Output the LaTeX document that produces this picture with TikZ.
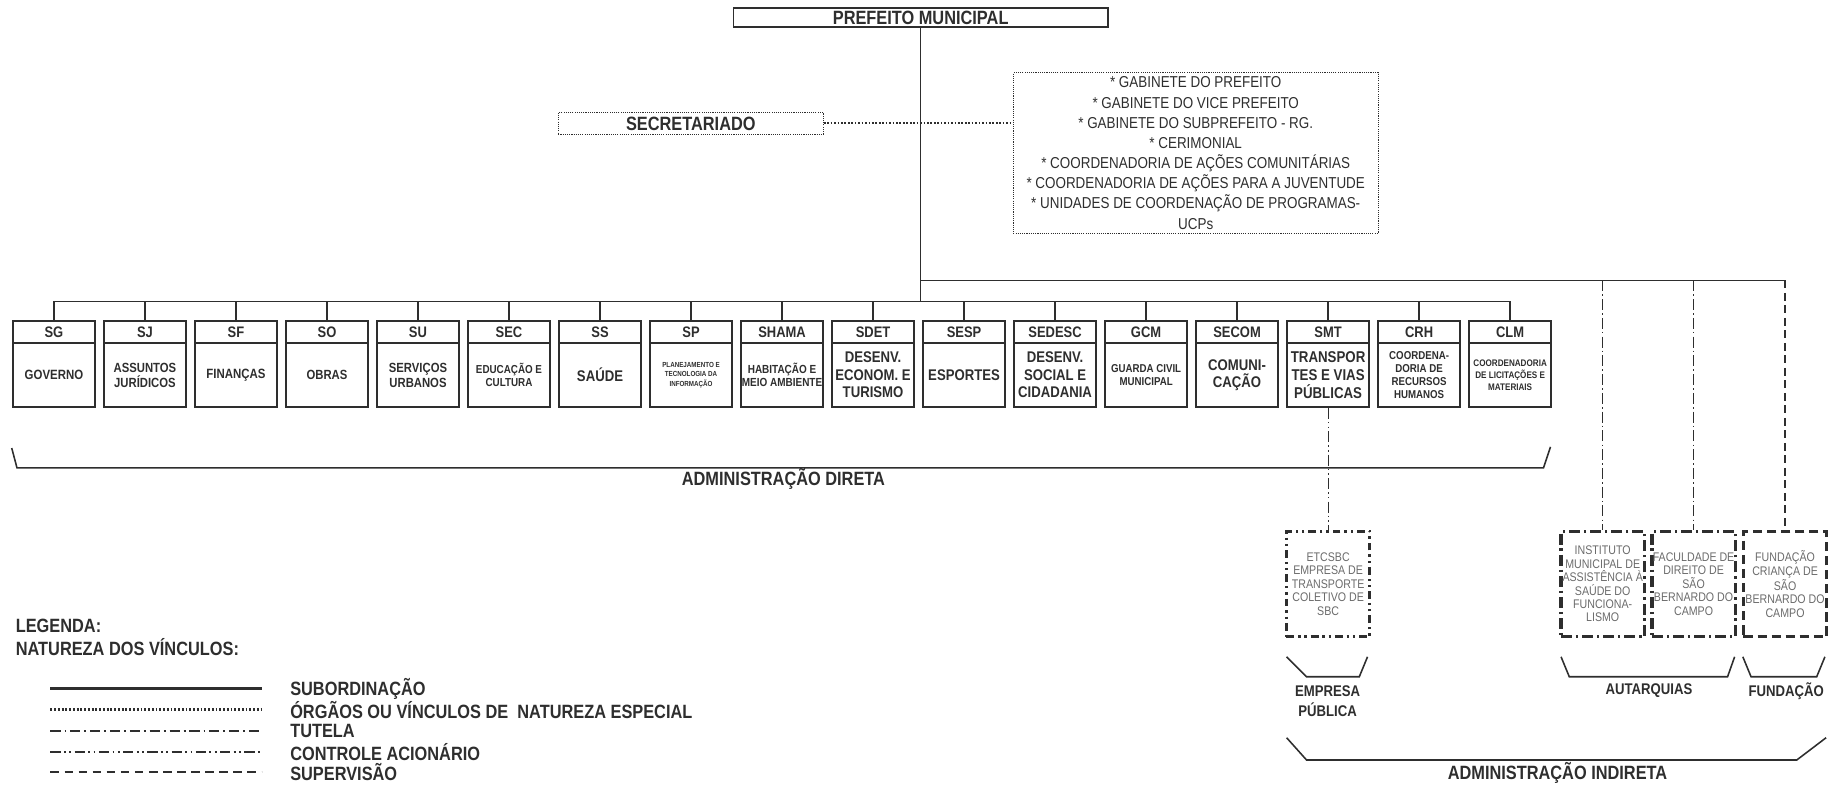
\documentclass[tikz,border=0pt]{standalone}
\usepackage{fontspec}
\setmainfont{Liberation Sans}[FakeStretch=0.85]
\definecolor{ink}{HTML}{2E2E2E}
\definecolor{greytxt}{HTML}{6B6B6B}
\newcommand\fsz[2]{\fontsize{#1}{#2}\selectfont}
\tikzset{every picture/.style={line width=0.75pt}}
\tikzset{
  hdbox/.style={draw=ink,text=ink,line width=1.1pt,minimum width=52.5pt,minimum height=14pt,inner sep=0pt,font=\bfseries\fsz{9.75}{10}},
  bdbox/.style 2 args={draw=ink,text=ink,line width=1.1pt,minimum width=52.5pt,minimum height=40.7pt,inner sep=0pt,align=center,font=\bfseries\fsz{#1}{#2}},
  biglbl/.style={text=ink,inner sep=0pt,font=\bfseries\fsz{12.3}{13}},
  midlbl/.style={text=ink,inner sep=0pt,align=center,font=\bfseries\fsz{9.9}{12.8}},
  indbox/.style={text=greytxt,line width=2pt,draw=ink,minimum width=53.25pt,minimum height=67.5pt,inner sep=0pt,align=center,font=\fsz{8}{8.6}},
  tutbox/.style={indbox,dash pattern=on 7pt off 2.5pt on 1.5pt off 2.5pt},
  ctlbox/.style={indbox,dash pattern=on 5pt off 2.5pt on 1.5pt off 2.5pt on 1.5pt off 2.5pt},
  supbox/.style={indbox,dash pattern=on 6pt off 3pt},
  subline/.style={draw=ink,line width=1pt},
  dotline/.style={draw=ink,line width=1.2pt,dash pattern=on 1.1pt off 1.1pt},
  tutline/.style={draw=ink,line width=0.8pt,dash pattern=on 7pt off 2pt on 1pt off 2pt},
  ctlline/.style={draw=ink,line width=0.8pt,dash pattern=on 7pt off 2pt on 1pt off 2pt on 1pt off 2pt},
  supline/.style={draw=ink,line width=0.8pt,dash pattern=on 5pt off 3pt},
  brace/.style={draw=ink,line width=1pt}
}

\begin{document}
\begin{tikzpicture}[x=0.75pt,y=0.75pt,yscale=-1,xscale=1]
\useasboundingbox (0,0) rectangle (1568,670);

% Prefeito
\node[draw=ink,text=ink,line width=1pt,minimum width=239.25pt,minimum height=12pt,inner sep=0pt,font=\bfseries\fsz{12.3}{13}] (pm) at (785,15) {PREFEITO MUNICIPAL};
\coordinate (ja) at (785,239);
\coordinate (jb) at (785,257);

% Secretariado and special organs
\node[draw=ink,text=ink,line width=0.6pt,dash pattern=on 0.7pt off 0.7pt,minimum width=169.5pt,minimum height=13.7pt,inner sep=0pt,font=\bfseries\fsz{12.3}{13}] (secr) at (589,105.2) {SECRETARIADO};
\node[draw=ink,text=ink,line width=0.6pt,dash pattern=on 0.7pt off 0.7pt,minimum width=233.25pt,minimum height=102.75pt,inner sep=0pt,align=center,font=\fsz{10.1}{12.9}] (gab) at (1019.5,130.5) {* GABINETE DO PREFEITO\\* GABINETE DO VICE PREFEITO\\* GABINETE DO SUBPREFEITO - RG.\\* CERIMONIAL\\* COORDENADORIA DE AÇÕES COMUNITÁRIAS\\* COORDENADORIA DE AÇÕES PARA A JUVENTUDE\\* UNIDADES DE COORDENAÇÃO DE PROGRAMAS-\\UCPs};

% Secretarias
\node[hdbox] (hsg) at (46,283.3) {SG};
\node[bdbox={8.6}{9.6}] (bsg) at (46,319.8) {GOVERNO};
\node[hdbox] (hsj) at (123.6,283.3) {SJ};
\node[bdbox={8.5}{9.6}] (bsj) at (123.6,319.8) {ASSUNTOS\\JURÍDICOS};
\node[hdbox] (hsf) at (201.2,283.3) {SF};
\node[bdbox={8.6}{9.6}] (bsf) at (201.2,319.8) {FINANÇAS};
\node[hdbox] (hso) at (278.8,283.3) {SO};
\node[bdbox={8.5}{9.6}] (bso) at (278.8,319.8) {OBRAS};
\node[hdbox] (hsu) at (356.4,283.3) {SU};
\node[bdbox={8.5}{9.6}] (bsu) at (356.4,319.8) {SERVIÇOS\\URBANOS};
\node[hdbox] (hsec) at (434,283.3) {SEC};
\node[bdbox={7.4}{8.6}] (bsec) at (434,319.8) {EDUCAÇÃO E\\CULTURA};
\node[hdbox] (hss) at (511.6,283.3) {SS};
\node[bdbox={9.9}{11}] (bss) at (511.6,319.8) {SAÚDE};
\node[hdbox] (hsp) at (589.2,283.3) {SP};
\node[bdbox={4.7}{6.1}] (bsp) at (589.2,319.8) {PLANEJAMENTO E\\TECNOLOGIA DA\\INFORMAÇÃO};
\node[hdbox] (hshama) at (666.8,283.3) {SHAMA};
\node[bdbox={7.5}{8.5}] (bshama) at (666.8,319.8) {HABITAÇÃO E\\MEIO AMBIENTE};
\node[hdbox] (hsdet) at (744.4,283.3) {SDET};
\node[bdbox={9.9}{11.25}] (bsdet) at (744.4,319.8) {DESENV.\\ECONOM. E\\TURISMO};
\node[hdbox] (hsesp) at (822,283.3) {SESP};
\node[bdbox={9.9}{11}] (bsesp) at (822,319.8) {ESPORTES};
\node[hdbox] (hsedesc) at (899.6,283.3) {SEDESC};
\node[bdbox={9.9}{11.25}] (bsedesc) at (899.6,319.8) {DESENV.\\SOCIAL E\\CIDADANIA};
\node[hdbox] (hgcm) at (977.2,283.3) {GCM};
\node[bdbox={7.3}{8.6}] (bgcm) at (977.2,319.8) {GUARDA CIVIL\\MUNICIPAL};
\node[hdbox] (hsecom) at (1054.8,283.3) {SECOM};
\node[bdbox={9.9}{11}] (bsecom) at (1054.8,319.8) {COMUNI-\\CAÇÃO};
\node[hdbox] (hsmt) at (1132.4,283.3) {SMT};
\node[bdbox={10}{11.25}] (bsmt) at (1132.4,319.8) {TRANSPOR\\TES E VIAS\\PÚBLICAS};
\node[hdbox] (hcrh) at (1210,283.3) {CRH};
\node[bdbox={7.3}{8.5}] (bcrh) at (1210,319.8) {COORDENA-\\DORIA DE\\RECURSOS\\HUMANOS};
\node[hdbox] (hclm) at (1287.6,283.3) {CLM};
\node[bdbox={6.1}{7.7}] (bclm) at (1287.6,319.8) {COORDENADORIA\\DE LICITAÇÕES E\\MATERIAIS};

% Administracao indireta
\node[ctlbox] (etc) at (1132.4,498) {ETCSBC\\EMPRESA DE\\TRANSPORTE\\COLETIVO DE\\SBC};
\node[tutbox] (imasf) at (1366.5,498) {INSTITUTO\\MUNICIPAL DE\\ASSISTÊNCIA À\\SAÚDE DO\\FUNCIONA-\\LISMO};
\node[tutbox] (fdsbc) at (1444,498) {FACULDADE DE\\DIREITO DE\\SÃO\\BERNARDO DO\\CAMPO};
\node[supbox] (fcsb) at (1522,498) {FUNDAÇÃO\\CRIANÇA DE\\SÃO\\BERNARDO DO\\CAMPO};

%Straight Lines
\draw[subline] (pm.south -| jb) -- (jb);
\draw[subline] (ja) -- (ja -| fcsb.north);
\draw[subline] (jb -| hsg.north) -- (jb -| hclm.north);
\draw[subline] (jb -| hsg.north) -- (hsg.north);
\draw[subline] (jb -| hsj.north) -- (hsj.north);
\draw[subline] (jb -| hsf.north) -- (hsf.north);
\draw[subline] (jb -| hso.north) -- (hso.north);
\draw[subline] (jb -| hsu.north) -- (hsu.north);
\draw[subline] (jb -| hsec.north) -- (hsec.north);
\draw[subline] (jb -| hss.north) -- (hss.north);
\draw[subline] (jb -| hsp.north) -- (hsp.north);
\draw[subline] (jb -| hshama.north) -- (hshama.north);
\draw[subline] (jb -| hsdet.north) -- (hsdet.north);
\draw[subline] (jb -| hsesp.north) -- (hsesp.north);
\draw[subline] (jb -| hsedesc.north) -- (hsedesc.north);
\draw[subline] (jb -| hgcm.north) -- (hgcm.north);
\draw[subline] (jb -| hsecom.north) -- (hsecom.north);
\draw[subline] (jb -| hsmt.north) -- (hsmt.north);
\draw[subline] (jb -| hcrh.north) -- (hcrh.north);
\draw[subline] (jb -| hclm.north) -- (hclm.north);
\draw[dotline] (secr.east) -- (secr.east -| gab.west);
\draw[ctlline] (bsmt.south) -- (etc.north);
\draw[tutline] (ja -| imasf.north) -- (imasf.north);
\draw[tutline] (ja -| fdsbc.north) -- (fdsbc.north);
\draw[supline] (ja -| fcsb.north) -- (fcsb.north);

% Brackets
\draw[brace] (10,382) -- (14.5,399) -- (1316,399) -- (1322,381);
\draw[brace] (1097,560) -- (1114,577) -- (1159,577) -- (1166,560);
\draw[brace] (1331,560) -- (1338,577) -- (1473,577) -- (1479,560);
\draw[brace] (1486,560) -- (1493,577) -- (1549,577) -- (1556,560);
\draw[brace] (1097,629) -- (1114,648) -- (1532,648) -- (1557,629);

% Text Node
\node[biglbl] (dir) at (668,408) {ADMINISTRAÇÃO DIRETA};
\node[midlbl] (emp) at (1132,597.5) {EMPRESA\\PÚBLICA};
\node[midlbl] (aut) at (1406,589) {AUTARQUIAS};
\node[midlbl] (fund) at (1523,589) {FUNDAÇÃO};
\node[biglbl] (indir) at (1328,659) {ADMINISTRAÇÃO INDIRETA};

% Legenda
\node[biglbl,anchor=west] (leg) at (13,533.5) {LEGENDA:};
\node[biglbl,anchor=west] (nat) at (13,552) {NATUREZA DOS VÍNCULOS:};
\draw[draw=ink,line width=2.2pt] (43,587) -- (223,587);
\draw[draw=ink,line width=1.5pt,dash pattern=on 1.2pt off 1.2pt] (43,605) -- (223,605);
\draw[draw=ink,line width=1.3pt,dash pattern=on 6.5pt off 2.5pt on 1.2pt off 2.5pt] (43,623) -- (223,623);
\draw[draw=ink,line width=1.3pt,dash pattern=on 6.5pt off 2.2pt on 1.2pt off 2.2pt on 1.2pt off 2.2pt] (43,641) -- (223,641);
\draw[draw=ink,line width=1.3pt,dash pattern=on 5.5pt off 3.5pt] (43,658) -- (223,658);
\node[biglbl,anchor=west] (lsub) at (247,587) {SUBORDINAÇÃO};
\node[biglbl,anchor=west] (lesp) at (247,605) {ÓRGÃOS OU VÍNCULOS DE\ \ NATUREZA ESPECIAL};
\node[biglbl,anchor=west] (ltut) at (247,623) {TUTELA};
\node[biglbl,anchor=west] (lctl) at (247,641) {CONTROLE ACIONÁRIO};
\node[biglbl,anchor=west] (lsup) at (247,658) {SUPERVISÃO};

\end{tikzpicture}
\end{document}
